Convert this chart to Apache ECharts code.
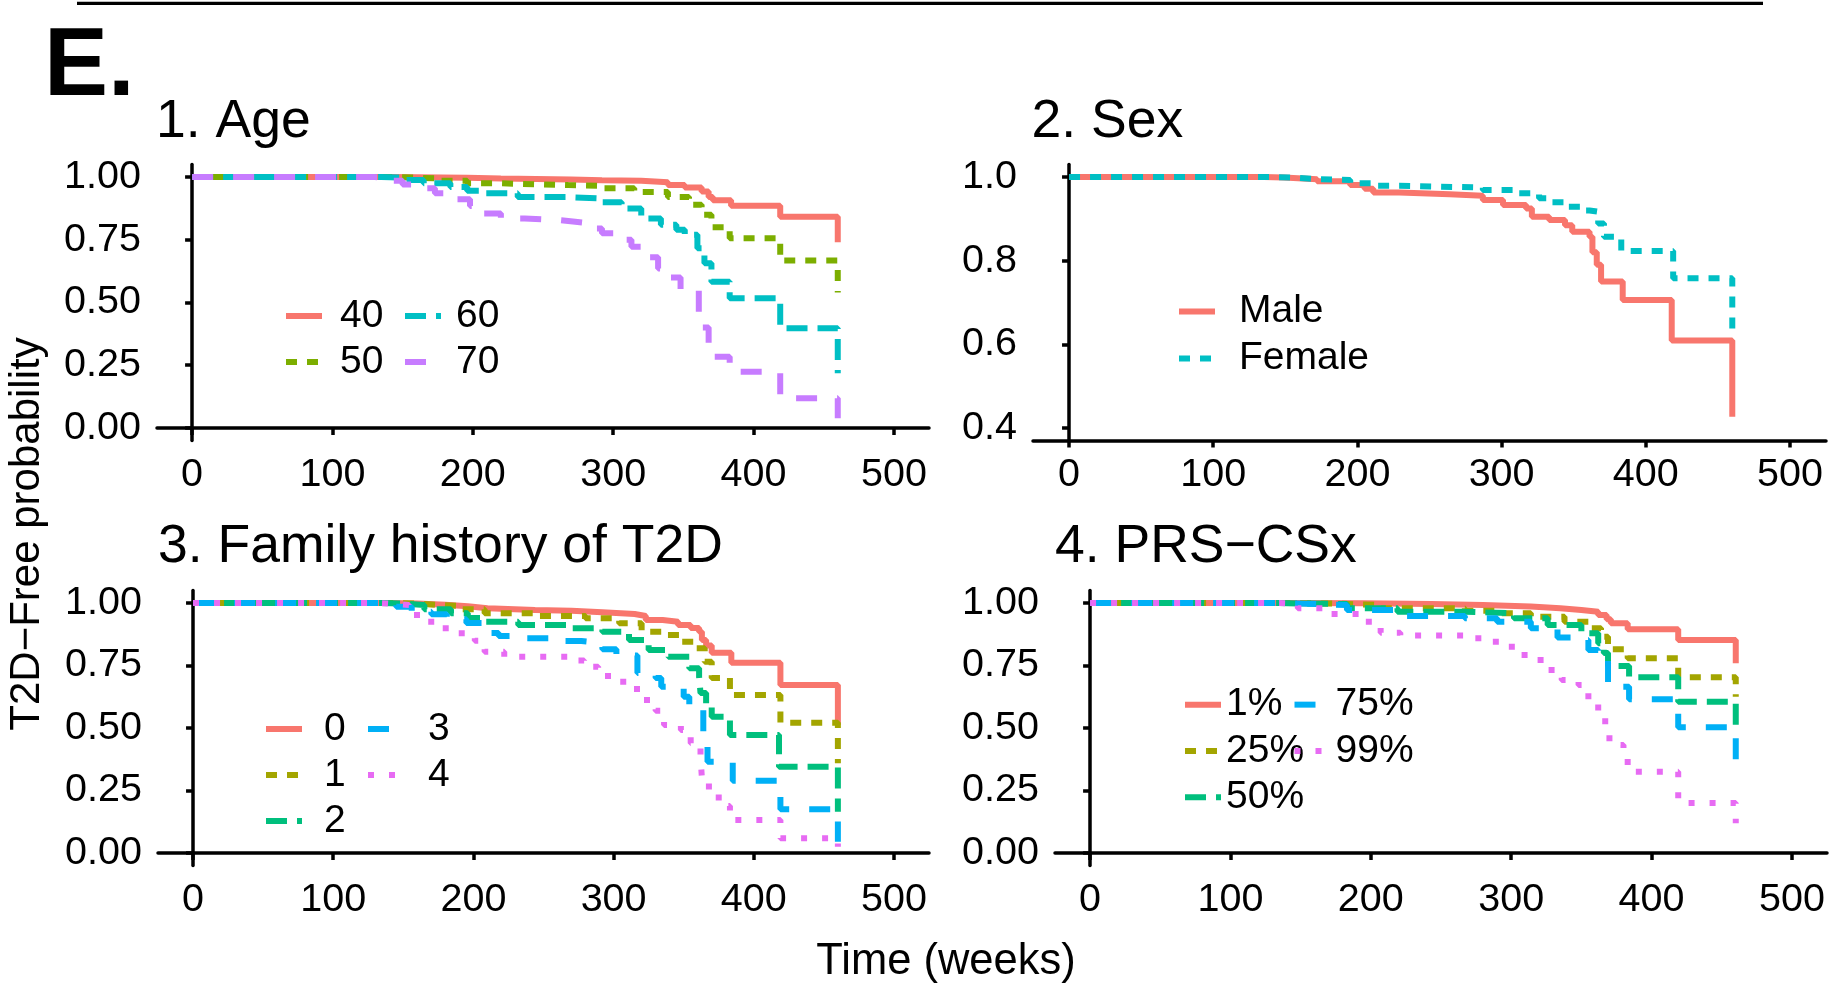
<!DOCTYPE html>
<html>
<head>
<meta charset="utf-8">
<script src="https://cdn.jsdelivr.net/npm/echarts@6/dist/echarts.min.js"></script>
<style>
html,body{margin:0;padding:0;background:#fff;}
#chart{width:1830px;height:984px;}
</style>
</head>
<body>
<div id="chart"></div>
<script>
// ---------- tick labels ----------
const xTicks = [0, 100, 200, 300, 400, 500];
const probTicks = [0, 0.25, 0.5, 0.75, 1];
const sexTicks = [0.4, 0.6, 0.8, 1.0];

// ---------- panel titles / legends ----------
const panelTitles = ['1. Age', '2. Sex', '3. Family history of T2D', '4. PRS\u2212CSx'];
const ageNames = ['40', '50', '60', '70'];
const sexNames = ['Male', 'Female'];
const famNames = ['0', '1', '2', '3', '4'];
const prsNames = ['1%', '25%', '50%', '75%', '99%'];

// ---------- survival curves: [week, T2D-free probability] ----------
const age40 = [[0,1],[140,0.999],[160,0.997],[196,0.994],[220,0.99],[270,0.987],[292,0.985],[320,0.979],[339,0.968],[351,0.958],[363,0.942],[368,0.92],[371,0.908],[384,0.886],[419,0.842],[460,0.74]];
const age50 = [[0,1],[140,0.998],[156,0.995],[175,0.985],[196,0.975],[220,0.968],[268,0.965],[292,0.955],[315,0.94],[339,0.92],[354,0.89],[363,0.85],[370,0.80],[383,0.756],[419,0.667],[460,0.54]];
const age60 = [[0,1],[135,0.998],[149,0.988],[165,0.975],[184,0.96],[196,0.945],[208,0.935],[232,0.92],[268,0.915],[292,0.90],[306,0.875],[320,0.835],[334,0.81],[345,0.79],[351,0.77],[360,0.716],[365,0.656],[370,0.583],[383,0.517],[419,0.397],[460,0.218]];
const age70 = [[0,1],[130,0.998],[140,0.985],[150,0.97],[161,0.955],[173,0.935],[186,0.912],[198,0.885],[208,0.855],[220,0.835],[237,0.829],[260,0.822],[273,0.815],[285,0.795],[292,0.776],[303,0.75],[313,0.722],[322,0.68],[332,0.636],[340,0.6],[348,0.55],[361,0.40],[368,0.284],[383,0.224],[419,0.118],[460,0.039]];

const sexMale = [[0,1],[135,0.999],[149,0.995],[172,0.99],[195,0.981],[205,0.972],[211,0.963],[229,0.959],[264,0.955],[287,0.945],[301,0.933],[317,0.925],[321,0.905],[333,0.897],[344,0.885],[349,0.869],[361,0.857],[363,0.82],[366,0.79],[369,0.75],[384,0.706],[418,0.609],[460,0.427]];
const sexFemale = [[0,1],[140,0.998],[160,0.995],[172,0.993],[195,0.985],[211,0.979],[229,0.975],[287,0.969],[310,0.961],[326,0.949],[335,0.94],[344,0.929],[355,0.92],[361,0.917],[367,0.889],[371,0.857],[383,0.823],[419,0.758],[460,0.622]];

const fam0 = [[0,1],[140,0.998],[160,0.993],[180,0.987],[196,0.979],[210,0.972],[244,0.969],[270,0.963],[292,0.956],[315,0.948],[323,0.932],[335,0.925],[346,0.912],[355,0.9],[361,0.885],[363,0.852],[366,0.83],[370,0.801],[384,0.761],[419,0.672],[460,0.512]];
const fam1 = [[0,1],[140,0.998],[160,0.993],[173,0.988],[190,0.975],[208,0.959],[244,0.948],[280,0.939],[304,0.919],[320,0.885],[334,0.872],[347,0.845],[358,0.819],[365,0.765],[370,0.70],[383,0.632],[419,0.521],[460,0.359]];
const fam2 = [[0,1],[135,0.998],[149,0.992],[165,0.975],[184,0.959],[196,0.94],[208,0.925],[232,0.912],[268,0.899],[292,0.885],[311,0.852],[325,0.812],[339,0.785],[354,0.739],[361,0.705],[362,0.64],[366,0.585],[370,0.545],[383,0.472],[418,0.345],[460,0.165]];
const fam3 = [[0,1],[135,0.998],[145,0.985],[156,0.965],[170,0.955],[181,0.935],[195,0.92],[206,0.88],[218,0.868],[233,0.859],[264,0.848],[277,0.84],[292,0.815],[302,0.79],[317,0.72],[330,0.70],[334,0.665],[350,0.625],[354,0.585],[364,0.48],[367,0.365],[385,0.289],[419,0.175],[460,0.045]];
const fam4 = [[0,1],[130,0.998],[139,0.992],[154,0.952],[166,0.925],[177,0.899],[189,0.879],[201,0.849],[208,0.805],[222,0.785],[267,0.77],[279,0.745],[289,0.708],[301,0.685],[313,0.656],[320,0.612],[330,0.569],[336,0.512],[348,0.492],[355,0.439],[362,0.385],[363,0.299],[368,0.241],[375,0.188],[383,0.132],[419,0.059],[460,0.025]];

const prs1 = [[0,1],[140,0.999],[195,0.996],[243,0.992],[280,0.986],[314,0.979],[335,0.972],[350,0.965],[362,0.952],[368,0.935],[371,0.919],[383,0.895],[419,0.852],[460,0.759]];
const prs25 = [[0,1],[140,0.998],[171,0.992],[207,0.979],[267,0.969],[290,0.959],[314,0.945],[338,0.925],[357,0.899],[364,0.865],[369,0.815],[383,0.779],[419,0.703],[460,0.625]];
const prs50 = [[0,1],[135,0.998],[148,0.996],[183,0.979],[219,0.965],[267,0.959],[302,0.939],[326,0.912],[350,0.879],[362,0.839],[366,0.8],[369,0.748],[384,0.703],[419,0.605],[460,0.492]];
const prs75 = [[0,1],[135,0.998],[148,0.992],[183,0.972],[219,0.948],[267,0.939],[290,0.925],[314,0.899],[333,0.862],[347,0.852],[355,0.812],[362,0.772],[369,0.665],[384,0.615],[419,0.503],[460,0.305]];
const prs99 = [[0,1],[135,0.998],[148,0.979],[171,0.956],[195,0.925],[207,0.881],[221,0.87],[267,0.859],[280,0.845],[293,0.825],[305,0.792],[317,0.772],[326,0.732],[336,0.692],[348,0.672],[355,0.615],[362,0.565],[367,0.505],[370,0.432],[380,0.396],[383,0.325],[419,0.2],[460,0.119]];

// ---------- styling ----------
const FONT = "'Liberation Sans', Arial, Helvetica, sans-serif";
const hue2 = ['#F8766D', '#00BFC4'];
const hue4 = ['#F8766D', '#7CAE00', '#00BFC4', '#C77CFF'];
const hue5 = ['#F8766D', '#A3A500', '#00BF7D', '#00B0F6', '#E76BF3'];
const dashes = ['solid', [11, 10], [21, 10], [21, 20], [6, 15]];
const LW = 6;
const TICK_FS = 39.5;

const grids = [
  {left: 157, top: 164.5, width: 772, height: 276},
  {left: 1033, top: 164.5, width: 793, height: 276},
  {left: 158, top: 590.5, width: 771, height: 275},
  {left: 1055, top: 590.5, width: 772, height: 275}
];

function xAxis(i) {
  return {
    type: 'value', gridIndex: i, min: -25, max: 525,
    axisLine: {show: true, lineStyle: {color: '#000', width: 3.5}},
    axisTick: {show: true, length: 7, lineStyle: {color: '#000', width: 3.5}, customValues: xTicks},
    axisLabel: {customValues: xTicks, color: '#000', fontSize: TICK_FS, fontFamily: FONT, margin: 15},
    splitLine: {show: false}
  };
}
function yAxis(i, min, max, ticks, digits) {
  return {
    type: 'value', gridIndex: i, min: min, max: max,
    axisLine: {show: true, lineStyle: {color: '#000', width: 3.5}},
    axisTick: {show: true, length: 7, lineStyle: {color: '#000', width: 3.5}, customValues: ticks},
    axisLabel: {customValues: ticks, color: '#000', fontSize: TICK_FS, fontFamily: FONT, margin: 16,
      formatter: v => Number(v).toFixed(digits)},
    splitLine: {show: false}
  };
}

function curve(name, data, panel, color, dash) {
  return {
    type: 'line', name: name, data: data, xAxisIndex: panel, yAxisIndex: panel,
    step: 'end', symbol: 'none', showSymbol: false, color: color,
    lineStyle: {color: color, width: LW, type: dash}, animation: false, silent: true
  };
}

const series = [];
[age40, age50, age60, age70].forEach((d, k) => series.push(curve(ageNames[k], d, 0, hue4[k], dashes[k])));
[sexMale, sexFemale].forEach((d, k) => series.push(curve(sexNames[k], d, 1, hue2[k], dashes[k])));
[fam0, fam1, fam2, fam3, fam4].forEach((d, k) => series.push(curve(famNames[k], d, 2, hue5[k], dashes[k])));
[prs1, prs25, prs50, prs75, prs99].forEach((d, k) => series.push(curve(prsNames[k], d, 3, hue5[k], dashes[k])));

function legend(names, left, top, lineH, pad) {
  return {
    data: names, orient: 'vertical', left: left, top: top, padding: 0, itemGap: 0,
    itemWidth: 36, itemHeight: 14, selectedMode: false,
    itemStyle: {opacity: 0},
    lineStyle: {width: 6},
    textStyle: {fontSize: 39, fontFamily: FONT, color: '#000', lineHeight: lineH, padding: [0, 0, 0, pad]}
  };
}

const legends = [
  legend(['40', '50'], 283, 293, 46, 13),
  legend(['60', '70'], 402, 293, 46, 10),
  legend(['Male', 'Female'], 1176, 288, 47, 19),
  legend(['0', '1', '2'], 263, 706, 46, 17),
  legend(['3', '4'], 365, 706, 46, 19),
  legend(['1%', '25%', '50%'], 1182, 681.5, 46.3, 0),
  legend(['75%', '99%'], 1291.5, 681.5, 46.3, 0)
];

function txt(text, x, y, size, opts) {
  return Object.assign({
    type: 'text', x: x, y: y, silent: true,
    style: Object.assign({text: text, fill: '#000', font: 'normal ' + size + 'px ' + FONT,
      verticalAlign: 'middle', align: 'left'}, (opts && opts.style) || {})
  }, (opts && opts.el) || {});
}

const graphics = [
  {type: 'line', silent: true, shape: {x1: 77, y1: 3.3, x2: 1763, y2: 3.3}, style: {stroke: '#000', lineWidth: 3.3}},
  txt('E.', 44, 69, 96, {style: {font: 'bold 96px ' + FONT}}),
  txt(panelTitles[0], 156, 122.5, 53.5),
  txt(panelTitles[1], 1031.5, 122.5, 53.5),
  txt(panelTitles[2], 158, 547.5, 53.5),
  txt(panelTitles[3], 1055, 547.5, 53.5),
  txt('T2D\u2212Free probability', 27, 534, 42, {style: {align: 'center'}, el: {rotation: Math.PI / 2}}),
  txt('Time (weeks)', 946, 962, 43.5, {style: {align: 'center'}})
];

const chart = echarts.init(document.getElementById('chart'), null, {renderer: 'canvas'});
chart.setOption({
  backgroundColor: '#fff',
  animation: false,
  grid: grids,
  xAxis: [0, 1, 2, 3].map(xAxis),
  yAxis: [
    yAxis(0, -0.05, 1.05, probTicks, 2),
    yAxis(1, 0.37, 1.03, sexTicks, 1),
    yAxis(2, -0.05, 1.05, probTicks, 2),
    yAxis(3, -0.05, 1.05, probTicks, 2)
  ],
  legend: legends,
  series: series,
  graphic: graphics
});
</script>
</body>
</html>
